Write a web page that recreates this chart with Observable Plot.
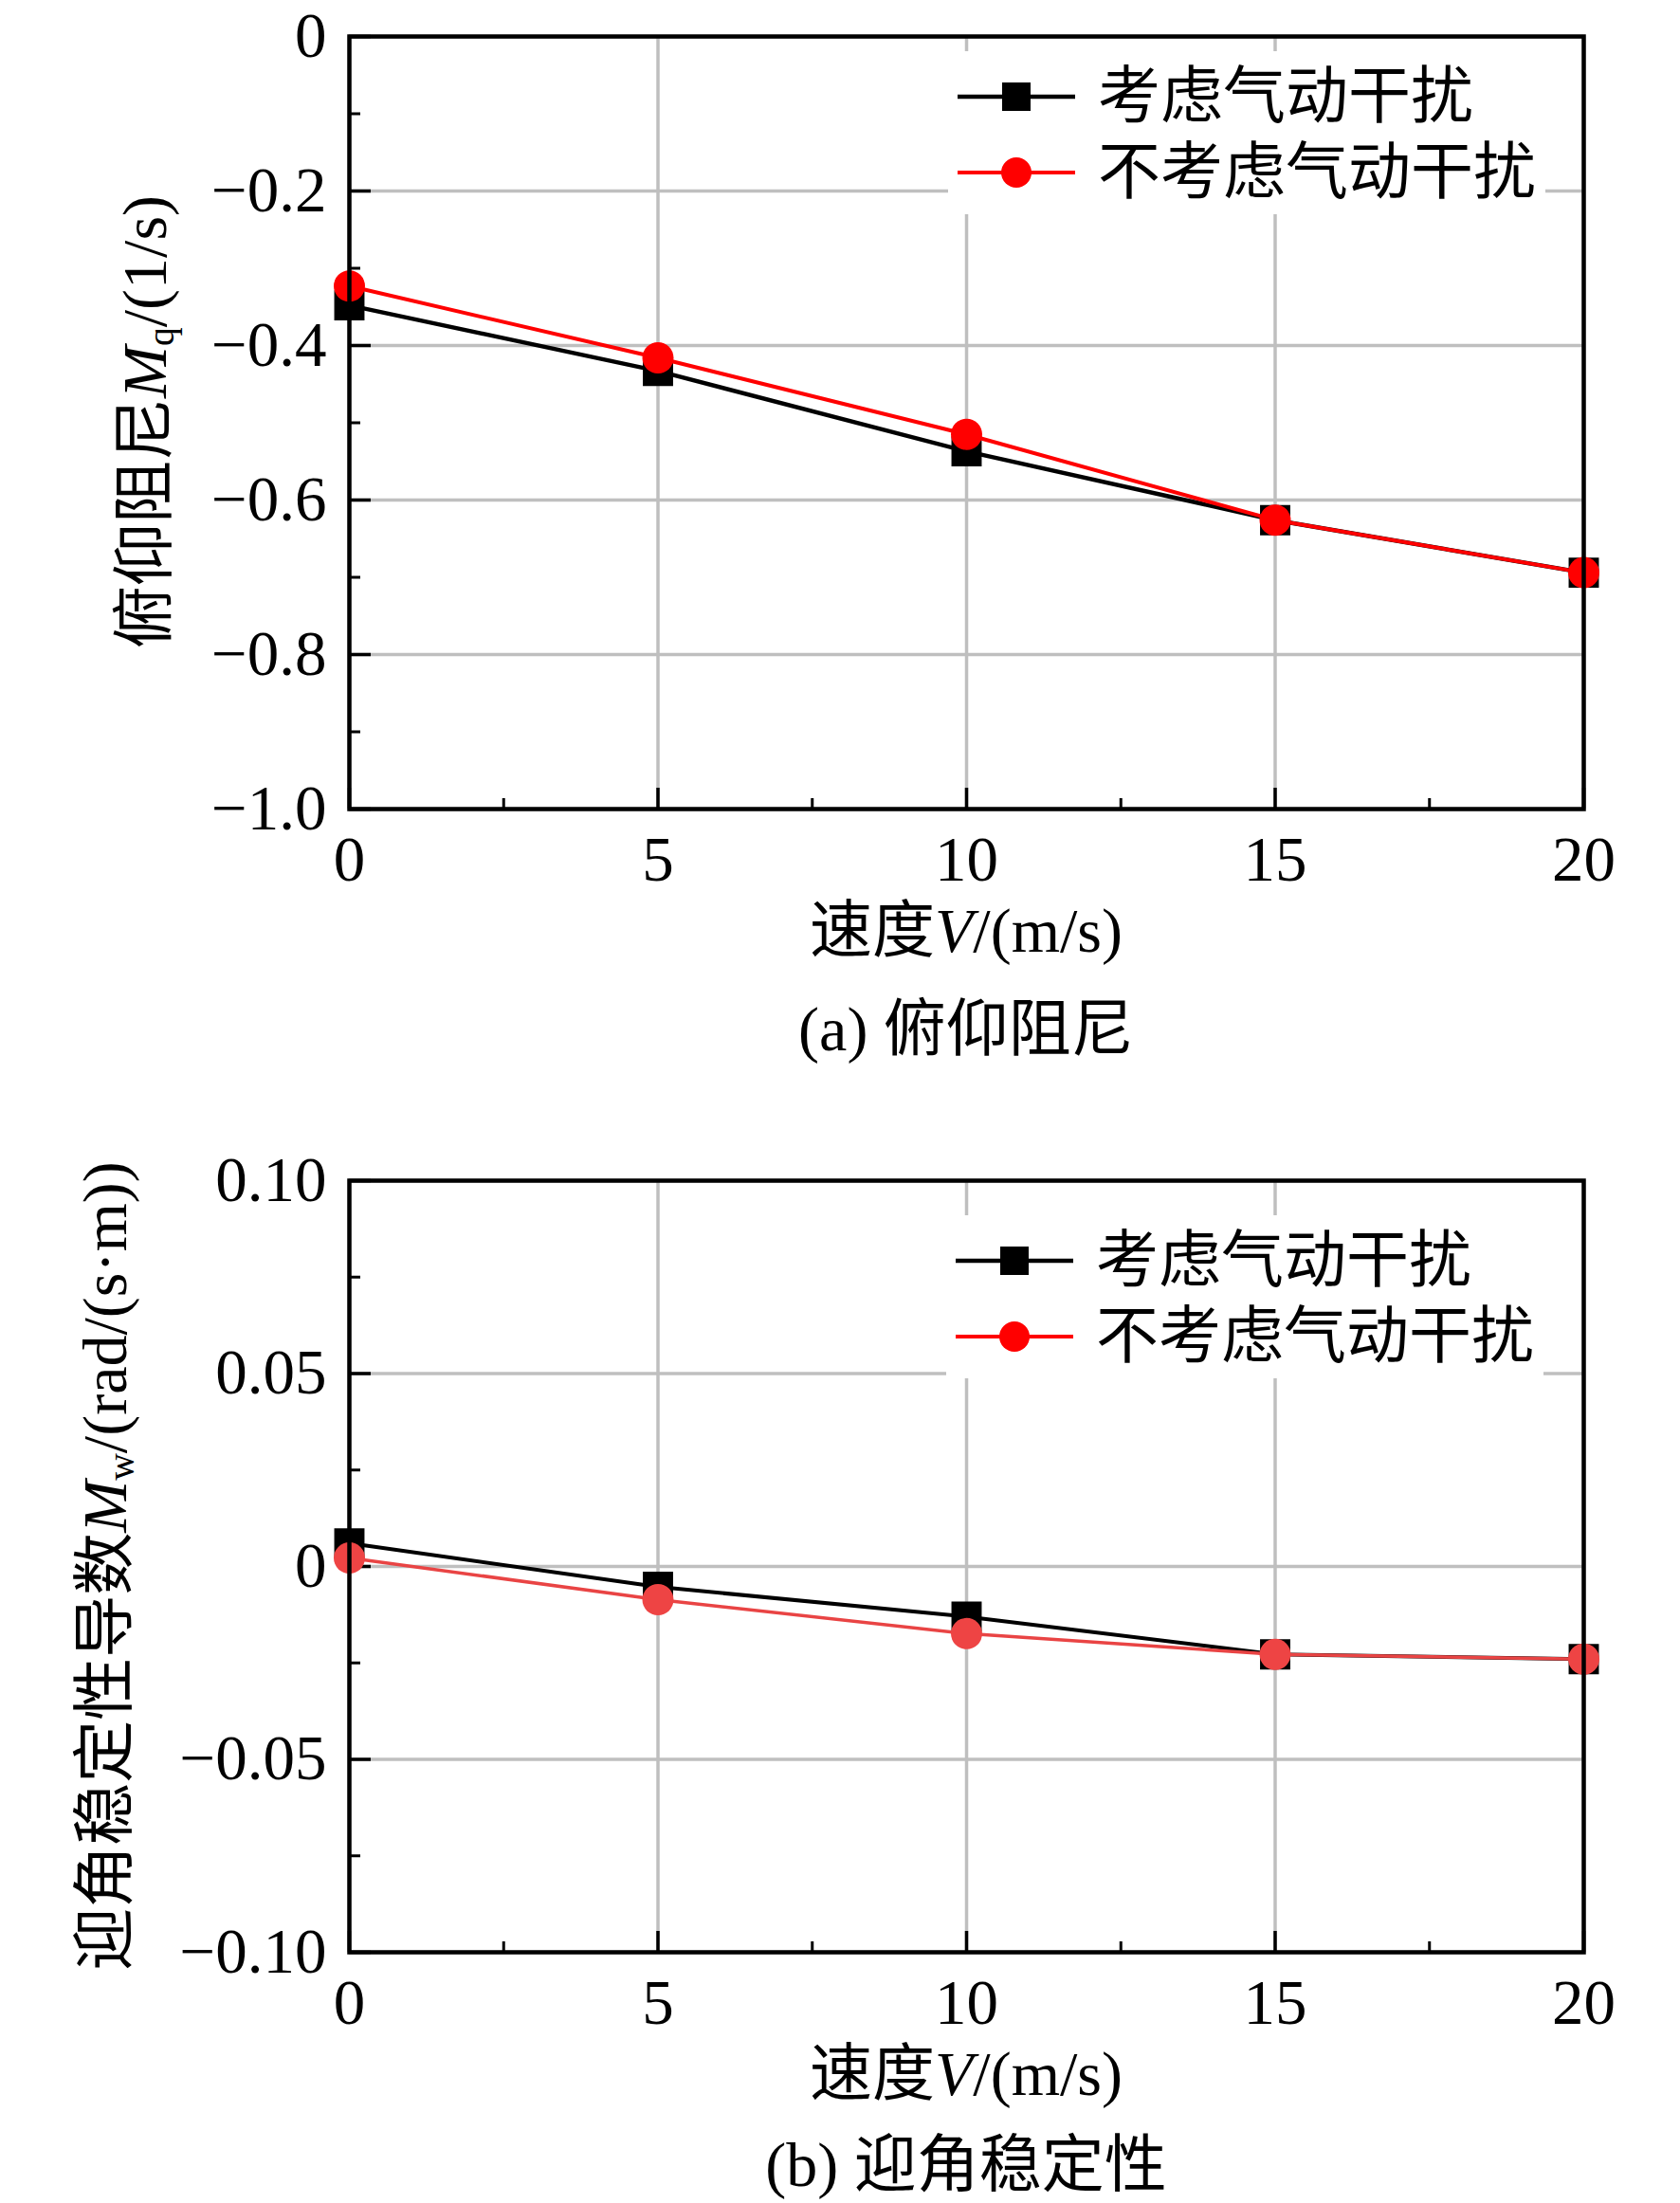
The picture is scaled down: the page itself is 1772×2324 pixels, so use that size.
<!DOCTYPE html>
<html><head><meta charset="utf-8">
<script src="https://cdn.jsdelivr.net/npm/d3@7"></script>
<script src="https://cdn.jsdelivr.net/npm/@observablehq/plot@0.6"></script>
<style>
body{margin:0;background:#fff;}
#wrap{position:relative;width:1772px;height:2324px;font-family:"Liberation Serif","Noto Sans CJK SC",serif;color:#000;overflow:hidden;}
.txt{position:absolute;white-space:nowrap;line-height:1;font-size:66px;transform:translate(-50%,-50%);}
.ytxt{position:absolute;white-space:nowrap;line-height:1;font-size:66px;transform:translate(-50%,-50%) rotate(-90deg);}
sub{font-size:0.6em;vertical-align:-0.2em;line-height:0;}
.leg{position:absolute;background:#fff;}
.legtext{position:absolute;white-space:nowrap;font-size:66px;line-height:1;transform:translateY(-50%);}
</style></head>
<body><div id="wrap"></div>
<script>
// ---- data ----
const speeds = [0, 5, 10, 15, 20];
const mqWith = [-0.348, -0.433, -0.537, -0.626, -0.694];
const mqWithout = [-0.323, -0.416, -0.515, -0.626, -0.694];
const mwWith = [0.006, -0.0053, -0.013, -0.0228, -0.024];
const mwWithout = [0.0022, -0.0086, -0.0174, -0.0228, -0.024];
const seriesNames = ["考虑气动干扰", "不考虑气动干扰"];
const xMajor = [0, 5, 10, 15, 20];
const xMinor = [2.5, 7.5, 12.5, 17.5];
const yMajorA = [0, -0.2, -0.4, -0.6, -0.8, -1.0];
const yMinorA = [-0.1, -0.3, -0.5, -0.7, -0.9];
const yMajorB = [0.10, 0.05, 0, -0.05, -0.10];
const yMinorB = [0.075, 0.025, -0.025, -0.075];

const wrap = document.getElementById("wrap");
const ML = 368, MR = 102, W = 1772;

function toRows(xs, ys){ return xs.map((x,i)=>({x, y: ys[i]})); }

function panel({h, mt, mb, yDomain, yMajor, yMinor, yFmt, a, b, redLine, redFill, blackW, redW}) {
  const frameH = h - mt - mb;
  const frameW = W - ML - MR;
  const grid = {stroke: "#bfbfbf", strokeOpacity: 1, strokeWidth: 3.5};
  return Plot.plot({
    width: W, height: h, marginTop: mt, marginBottom: mb, marginLeft: ML, marginRight: MR,
    style: {fontFamily: "'Liberation Serif', serif", fontSize: "67px", color: "#000", background: "transparent", overflow: "visible"},
    x: {domain: [0, 20]},
    y: {domain: yDomain},
    marks: [
      Plot.gridX(xMajor, grid),
      Plot.gridY(yMajor, grid),
      Plot.tickX(xMajor, {x: d => d, insetTop: frameH - 22, strokeWidth: 3.5, stroke: "#000"}),
      Plot.tickX(xMinor, {x: d => d, insetTop: frameH - 11, strokeWidth: 3, stroke: "#000"}),
      Plot.tickY(yMajor, {y: d => d, insetRight: frameW - 23, strokeWidth: 3.5, stroke: "#000"}),
      Plot.tickY(yMinor, {y: d => d, insetRight: frameW - 12, strokeWidth: 3, stroke: "#000"}),
      Plot.axisX(xMajor, {tickSize: 0, tickPadding: 28, fontSize: 67, tickFormat: d => String(d), label: null}),
      Plot.axisY(yMajor, {tickSize: 0, tickPadding: 24, fontSize: 67, tickFormat: yFmt, label: null}),
      Plot.line(toRows(speeds, a), {x: "x", y: "y", stroke: "#000", strokeWidth: blackW}),
      Plot.dot(toRows(speeds, a), {x: "x", y: "y", symbol: "square", r: 18, fill: "#000"}),
      Plot.line(toRows(speeds, b), {x: "x", y: "y", stroke: redLine, strokeWidth: redW}),
      Plot.dot(toRows(speeds, b), {x: "x", y: "y", symbol: "circle", r: 16.5, fill: redFill}),
      Plot.frame({stroke: "#000", strokeWidth: 4.5})
    ]
  });
}

function place(el, top){ el.style.position = "absolute"; el.style.left = "0px"; el.style.top = top + "px"; wrap.appendChild(el); }

const svgA = panel({h: 1040, mt: 38, mb: 187, yDomain: [-1.0, 0], yMajor: yMajorA, yMinor: yMinorA,
  yFmt: d => d === 0 ? "0" : "\u2212" + Math.abs(d).toFixed(1), a: mqWith, b: mqWithout,
  redLine: "#ff0000", redFill: "#ff0000", blackW: 4.5, redW: 4});
place(svgA, 0);
const svgB = panel({h: 1000, mt: 105, mb: 81, yDomain: [-0.10, 0.10], yMajor: yMajorB, yMinor: yMinorB,
  yFmt: d => Math.abs(d) < 1e-9 ? "0" : (d < 0 ? "\u2212" : "") + Math.abs(d).toFixed(2), a: mwWith, b: mwWithout,
  redLine: "#e94444", redFill: "#ee4444", blackW: 4, redW: 3.5});
place(svgB, 1140);

function addText(cls, html, x, y){ const d = document.createElement("div"); d.className = cls; d.innerHTML = html; d.style.left = x + "px"; d.style.top = y + "px"; wrap.appendChild(d); return d; }

// axis titles and captions
addText("txt", "速度<i>V</i>/(m/s)", 1019, 982);
addText("txt", "(a) 俯仰阻尼", 1019, 1086);
addText("ytxt", "俯仰阻尼<i>M</i><sub>q</sub>/(1/s)", 153, 445);
addText("txt", "速度<i>V</i>/(m/s)", 1019, 2188);
addText("txt", "(b) 迎角稳定性", 1019, 2284);
addText("ytxt", "迎角稳定性导数<i>M</i><sub>w</sub>/(rad/(s·m))", 111, 1652);

// legends
function legend(left, top){
  const box = document.createElement("div");
  box.className = "leg";
  box.style.left = left + "px"; box.style.top = top + "px";
  box.style.width = "630px"; box.style.height = "172px";
  wrap.appendChild(box);
  const rows = [
    {name: seriesNames[0], color: "#000", sym: "square", y: 47.5, w: 4.5},
    {name: seriesNames[1], color: "#ff0000", sym: "circle", y: 128, w: 4}
  ];
  rows.forEach(r => {
    const ns = "http://www.w3.org/2000/svg";
    const s = document.createElementNS(ns, "svg");
    s.setAttribute("width", 124); s.setAttribute("height", 40);
    s.style.position = "absolute"; s.style.left = "10px"; s.style.top = (r.y - 20) + "px";
    const ln = document.createElementNS(ns, "line");
    ln.setAttribute("x1", 0); ln.setAttribute("x2", 124); ln.setAttribute("y1", 20); ln.setAttribute("y2", 20);
    ln.setAttribute("stroke", r.color); ln.setAttribute("stroke-width", r.w);
    s.appendChild(ln);
    if (r.sym === "square") {
      const q = document.createElementNS(ns, "rect");
      q.setAttribute("x", 62 - 15); q.setAttribute("y", 5); q.setAttribute("width", 30); q.setAttribute("height", 30);
      q.setAttribute("fill", r.color); s.appendChild(q);
    } else {
      const c = document.createElementNS(ns, "circle");
      c.setAttribute("cx", 62); c.setAttribute("cy", 20); c.setAttribute("r", 16);
      c.setAttribute("fill", r.color); s.appendChild(c);
    }
    box.appendChild(s);
    const t = document.createElement("div");
    t.className = "legtext"; t.textContent = r.name;
    t.style.left = "158px"; t.style.top = r.y + "px";
    box.appendChild(t);
  });
}
legend(1000, 54);
legend(998, 1282);
</script>
</body></html>
